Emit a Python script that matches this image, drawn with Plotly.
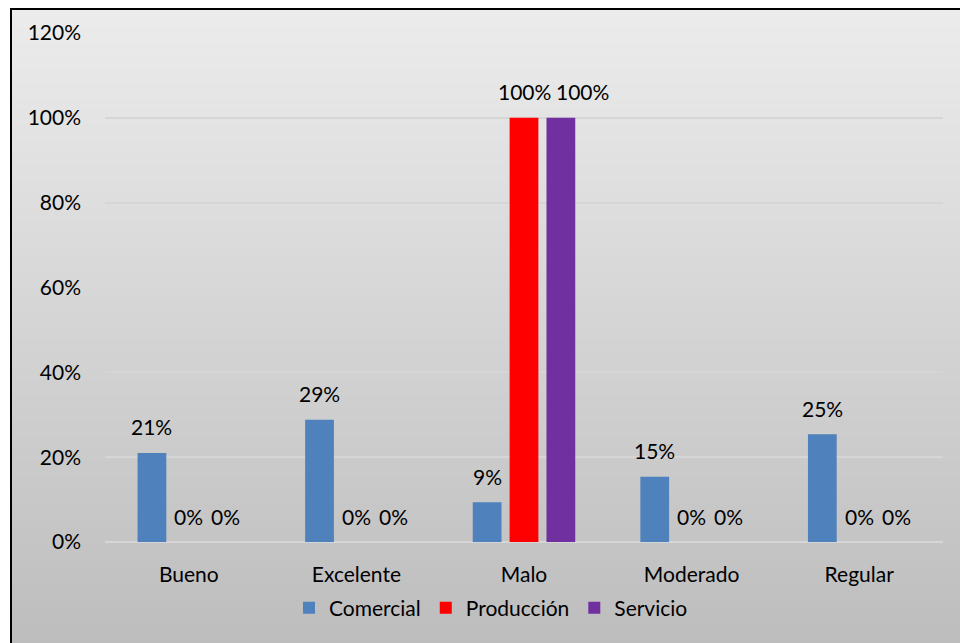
import base64
import struct
import zlib

import plotly.graph_objs as go

categories = ["Bueno", "Excelente", "Malo", "Moderado", "Regular"]
series_names = ["Comercial", "Producción", "Servicio"]
comercial = [0.21, 0.288, 0.094, 0.154, 0.254]
produccion = [0.0, 0.0, 1.0, 0.0, 0.0]
servicio = [0.0, 0.0, 1.0, 0.0, 0.0]
y_ticks = [0, 0.2, 0.4, 0.6, 0.8, 1.0, 1.2]
y_ticktext = ["0%", "20%", "40%", "60%", "80%", "100%", "120%"]

COLORS = {"Comercial": "#4f81bd", "Producción": "#ff0000", "Servicio": "#7030a0"}
FONT = "Lato"
FS = 21

# the page body has an 8px margin, so the figure is a bit smaller than the window
W, H = 960, 635
L, R, T, B = 97, 25, 25, 101
PW, PH = W - L - R, H - T - B


def gradient_png(top, bottom, rows=128):
    # tiny 1-px wide grayscale png, stretched as background
    raw = b""
    for i in range(rows):
        v = round(top + (bottom - top) * i / (rows - 1))
        raw += b"\x00" + bytes([v])

    def chunk(tag, data):
        c = tag + data
        return struct.pack(">I", len(data)) + c + struct.pack(">I", zlib.crc32(c) & 0xffffffff)

    png = b"\x89PNG\r\n\x1a\n"
    png += chunk(b"IHDR", struct.pack(">IIBBBBB", 1, rows, 8, 0, 0, 0, 0))
    png += chunk(b"IDAT", zlib.compress(raw))
    png += chunk(b"IEND", b"")
    return "data:image/png;base64," + base64.b64encode(png).decode()


def px_x(x):
    return (x - L) / PW


def px_y(y):
    return (H - B - y) / PH


fig = go.Figure()
data = {"Comercial": comercial, "Producción": produccion, "Servicio": servicio}
for name in series_names:
    fig.add_trace(go.Bar(name=name, x=categories, y=data[name], marker_color=COLORS[name],
                         marker_line_width=0))

# value labels above each bar (Excel nudges the 2nd "100%" right so they don't collide)
for i, name in enumerate(series_names):
    for cat, val in zip(categories, data[name]):
        nudge = 21 if (name == "Servicio" and val >= 1) else 0
        fig.add_annotation(x=cat, y=val, text=f"{val:.0%}", showarrow=False,
                           xshift=(i - 1) * 37 + nudge, yshift=26, yanchor="middle",
                           font=dict(family=FONT, size=FS, color="#000"))

box_top, box_left = 1, 3
fig.add_layout_image(source=gradient_png(236, 188), xref="paper", yref="paper",
                     x=px_x(box_left), y=px_y(box_top), sizex=px_x(W + 20) - px_x(box_left),
                     sizey=px_y(box_top) - px_y(H + 20), xanchor="left", yanchor="top",
                     sizing="stretch", layer="below")
fig.add_shape(type="rect", xref="paper", yref="paper",
              x0=px_x(box_left), x1=px_x(W + 20), y0=px_y(H + 20), y1=px_y(box_top),
              line=dict(color="#000", width=2), fillcolor="rgba(0,0,0,0)")

fig.update_layout(
    width=W, height=H,
    margin=dict(l=L, r=R, t=T, b=B, pad=0),
    paper_bgcolor="white",
    plot_bgcolor="rgba(0,0,0,0)",
    barmode="group", bargap=0.34, bargroupgap=0.22,
    font=dict(family=FONT, size=FS, color="#000"),
    legend=dict(orientation="h", x=px_x(483), xanchor="center", y=px_y(600), yanchor="middle",
                font=dict(size=FS), bgcolor="rgba(0,0,0,0)", itemwidth=30, tracegroupgap=0),
    showlegend=True,
)
fig.update_xaxes(showgrid=False, showline=False, ticks="", ticklabelstandoff=18,
                 tickfont=dict(size=FS))
fig.update_yaxes(range=[0, 1.2], tickvals=y_ticks, ticktext=y_ticktext,
                 showgrid=True, gridcolor="#d6d6d6", gridwidth=2,
                 zeroline=True, zerolinecolor="#d6d6d6", zerolinewidth=2,
                 showline=False, ticks="", ticklabelstandoff=23, tickfont=dict(size=FS))

fig.write_html("out.html")
